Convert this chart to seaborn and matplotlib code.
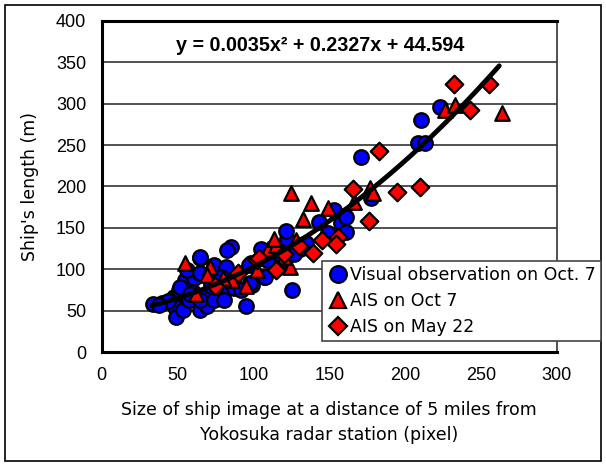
import numpy as np
import pandas as pd
import matplotlib.pyplot as plt
import seaborn as sns
from matplotlib.patches import Rectangle

# Visual observation on Oct. 7 (blue circles)
vis_x = [34, 40, 47.5, 48.6, 49.3, 50.8, 55.2, 60.7, 65, 54, 65, 69.6, 74, 81.7, 85,
         82.8, 78.4, 87, 95, 98.2, 99.3, 107, 109, 61.8, 69.6, 75, 52, 57.4, 65, 74,
         80.6, 56.3, 65, 71.8, 78.4, 87, 91.6, 97, 98, 108, 119, 122.5, 121.4, 104.8,
         125.8, 143.4, 157.7, 161, 153, 149, 161, 171, 177.8, 208.5, 210.7, 213, 223,
         65, 44, 38, 60, 72, 58, 131, 135, 127]
vis_y = [58, 59, 67, 54, 42, 75, 87, 89, 113, 51, 51, 55, 105, 103, 127,
         123, 73, 77, 55, 107, 81, 91, 111, 69, 69, 77, 79, 63, 63, 63,
         63, 99, 95, 87, 91, 89, 75, 105, 83, 91, 111, 137, 146.6, 125,
         75, 157.5, 155.5, 163.5, 171.6, 143.4, 145, 236, 185.7, 252, 280, 253, 295.7,
         115, 62, 57, 72, 80, 70, 125, 132, 118]

# AIS on Oct 7 (red triangles)
ais_oct_x = [54.8, 71.8, 69.6, 86, 102.6, 110, 114.7, 113.6, 124, 124.7, 132.5, 138,
             149, 166.5, 177, 179, 226, 232.7, 264, 62, 80, 95, 120, 128]
ais_oct_y = [107, 103, 93, 87, 99, 125, 129, 136, 103, 192, 160.5, 179.7,
             173.6, 181.6, 198, 192, 292.4, 298.5, 288.4, 70, 90, 80, 115, 135]

# AIS on May 22 (red diamonds)
ais_may_x = [232, 255, 243, 194.6, 209.5, 183, 166, 176, 155.5, 154.4, 102.6, 115.9,
             103.7, 114.7, 130, 139, 145, 120, 75, 90]
ais_may_y = [324, 324, 292, 193.7, 199, 243, 196.6, 158.7, 139, 131, 111, 100,
             113, 99, 128, 120, 135, 118, 80, 95]

# quadratic trend shown on the chart
coef = [0.0035, 0.2327, 44.594]
fit_range = [33, 262]

sns.set_style("white")
plt.rcParams['font.family'] = ['DejaVu Sans']
plt.rcParams.update({'text.color': 'black', 'axes.labelcolor': 'black',
                     'xtick.color': 'black', 'ytick.color': 'black'})

fig = plt.figure(figsize=(6.06, 4.66), dpi=100)
ax = fig.add_axes([0.1675, 0.2446, 0.7515, 0.7104])

mk = dict(edgecolor='black', linewidth=1.6, s=110, zorder=3, legend=False)
sns.scatterplot(x=vis_x, y=vis_y, marker='o', color='#0000ff', ax=ax, **mk)
sns.scatterplot(x=ais_oct_x, y=ais_oct_y, marker='^', color='#ff0000', ax=ax, **mk)
mk['s'] = 80
sns.scatterplot(x=ais_may_x, y=ais_may_y, marker='D', color='#ff0000', ax=ax, **mk)

xf = np.linspace(fit_range[0], fit_range[1], 200)
fit = pd.DataFrame({'x': xf, 'y': np.polyval(coef, xf)})
sns.lineplot(data=fit, x='x', y='y', color='black', linewidth=3.5, ax=ax, zorder=4)

ax.set_xlim(0, 300)
ax.set_ylim(0, 400)
ax.set_xticks(range(0, 301, 50))
ax.set_yticks(range(0, 401, 50))
for y in range(50, 400, 50):
    ax.axhline(y, color='#222222', linewidth=1.1, zorder=1)
ax.tick_params(direction='in', length=5, width=1, color='black', labelcolor='black',
               labelsize=13, pad=11)
for lab in ax.get_xticklabels() + ax.get_yticklabels():
    lab.set_family('Liberation Sans')
for side in ['left', 'bottom', 'top']:
    ax.spines[side].set_linewidth(2.2)
    ax.spines[side].set_color('black')
ax.spines['right'].set_linewidth(1.2)
ax.spines['right'].set_color('#333333')

ax.set_xlabel("Size of ship image at a distance of 5 miles from\nYokosuka radar station (pixel)",
              fontsize=12.5, labelpad=12, linespacing=1.5, color='black')
ax.set_ylabel("Ship's length (m)", fontsize=12.5, labelpad=12, color='black')

ax.text(0.48, 0.925, "y = 0.0035x\u00b2 + 0.2327x + 44.594", transform=ax.transAxes,
        ha='center', va='center', fontsize=14.2, fontweight='bold', family='Liberation Sans',
        color='black')

# legend
handles = [
    plt.Line2D([], [], marker='o', ls='', markerfacecolor='#0000ff', markeredgecolor='black', markersize=12, markeredgewidth=1.6),
    plt.Line2D([], [], marker='^', ls='', markerfacecolor='#ff0000', markeredgecolor='black', markersize=12, markeredgewidth=1.6),
    plt.Line2D([], [], marker='D', ls='', markerfacecolor='#ff0000', markeredgecolor='black', markersize=9, markeredgewidth=1.6),
]
labels = ["Visual observation on Oct. 7", "AIS on Oct 7", "AIS on May 22"]
leg = fig.legend(handles, labels, loc='upper left', bbox_to_anchor=(322 / 606, 1 - 261 / 466),
                 fontsize=12.5, frameon=True, fancybox=False, framealpha=1, borderpad=0.3,
                 handletextpad=0.1, handlelength=1.2, labelspacing=0.45, borderaxespad=0)
leg.get_frame().set_edgecolor('#444444')
leg.get_frame().set_linewidth(1.2)
leg.set_zorder(10)
for t in leg.get_texts():
    t.set_color('black')

fig.patches.append(Rectangle((5 / 606, 5 / 466), 596 / 606, 456 / 466, transform=fig.transFigure,
                             fill=False, edgecolor='black', linewidth=1.2))

fig.savefig('out.png', dpi=100)
